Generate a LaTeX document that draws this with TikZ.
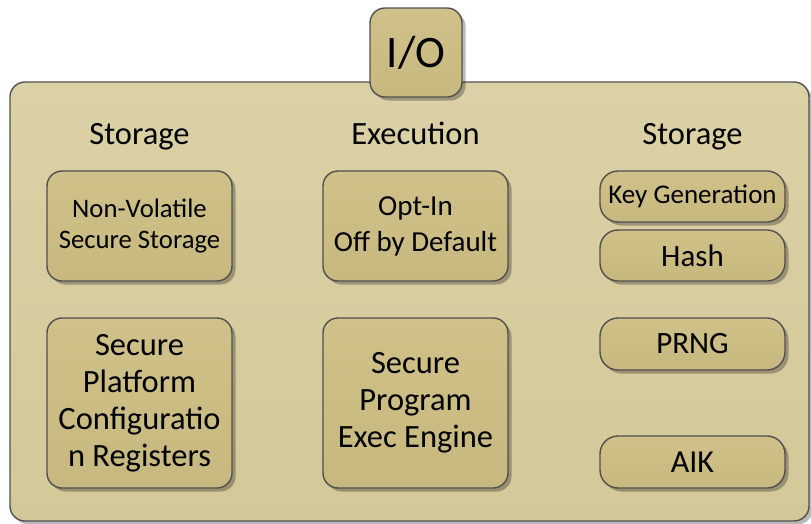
\documentclass[tikz,border=0pt]{standalone}
\usepackage{fontspec}
\setmainfont{Carlito}
\usetikzlibrary{shadows}
\definecolor{panel}{HTML}{D3C898}
\definecolor{panellight}{HTML}{DBD1A6}
\definecolor{unit}{HTML}{C7B87F}
\definecolor{unitlight}{HTML}{CFC189}
\definecolor{edge}{HTML}{505050}
\tikzset{
  x=1pt, y=-1pt,
  shade box/.style={draw=edge, line width=1.4pt,
    drop shadow={shadow xshift=3.5pt, shadow yshift=-3.5pt, opacity=0.28, fill=black}},
  outerbox/.style={shade box, rounded corners=15pt, top color=panellight, bottom color=panel},
  unitbox/.style={shade box, rounded corners=15pt, top color=unitlight, bottom color=unit,
    align=center, inner sep=0pt},
  pill/.style={unitbox, rounded corners=18pt, minimum width=185pt},
  header/.style={font=\fontsize{32.5}{38}\selectfont, anchor=base},
}
\begin{document}
\begin{tikzpicture}
\useasboundingbox (0,0) rectangle (811,523);
% main enclosure
\draw[outerbox] (10,82) rectangle (809,521);
% I/O tab on top
\node[unitbox, minimum width=92pt, minimum height=89pt, font=\fontsize{45}{50}\selectfont]
  (io) at (416,52.5) {I/O};
% column headings
\node[header] (hstore1) at (139.5,144) {Storage};
\node[header] (hexec) at (415.5,144) {Execution};
\node[header] (hstore2) at (692.5,144) {Storage};
% left column
\node[unitbox, minimum width=185pt, minimum height=110pt, font=\fontsize{26.7}{31}\selectfont]
  (nvss) at (139.5,226) {Non-Volatile\\Secure Storage};
\node[unitbox, minimum width=185pt, minimum height=170pt, font=\fontsize{32.5}{37}\selectfont]
  (spcr) at (139.5,403) {Secure\\Platform\\Configuratio\\n Registers};
% middle column
\node[unitbox, minimum width=185pt, minimum height=110pt, font=\fontsize{29}{36}\selectfont]
  (optin) at (415.5,226) {Opt-In\\Off by Default};
\node[unitbox, minimum width=185pt, minimum height=170pt, font=\fontsize{32.5}{37}\selectfont]
  (spee) at (415.5,403) {Secure\\Program\\Exec Engine};
% right column
\node[pill, minimum height=51pt, font=\fontsize{27}{30}\selectfont]
  (keygen) at (692.5,196.5) {Key Generation};
\node[pill, minimum height=51pt, font=\fontsize{31}{34}\selectfont]
  (hash) at (692.5,255.5) {Hash};
\node[pill, minimum height=52pt, font=\fontsize{31}{34}\selectfont]
  (prng) at (692.5,344) {PRNG};
\node[pill, minimum height=52pt, font=\fontsize{32}{34}\selectfont]
  (aik) at (692.5,462) {AIK};
\end{tikzpicture}
\end{document}
